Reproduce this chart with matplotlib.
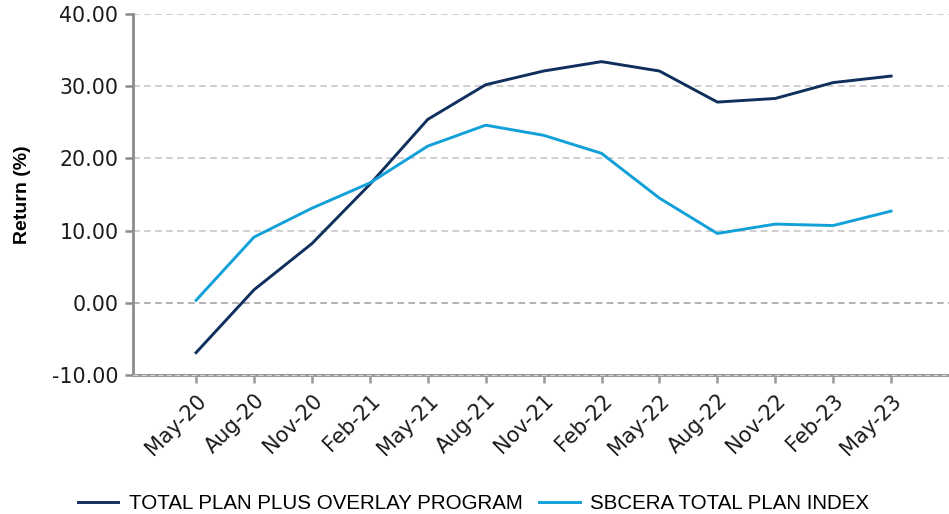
import matplotlib
matplotlib.use("Agg")
import matplotlib.pyplot as plt
from matplotlib.lines import Line2D
from matplotlib.transforms import ScaledTranslation

plt.rcParams['font.family'] = ['Liberation Sans', 'DejaVu Sans']

categories = ["May-20", "Aug-20", "Nov-20", "Feb-21", "May-21", "Aug-21", "Nov-21",
              "Feb-22", "May-22", "Aug-22", "Nov-22", "Feb-23", "May-23"]
total_plan_overlay = [-6.9, 1.8, 8.2, 16.4, 25.4, 30.2, 32.1, 33.4, 32.1, 27.8, 28.3, 30.5, 31.4]
sbcera_index = [0.35, 9.1, 13.1, 16.6, 21.7, 24.6, 23.2, 20.7, 14.5, 9.6, 10.9, 10.7, 12.7]
series_names = ["TOTAL PLAN PLUS OVERLAY PROGRAM", "SBCERA TOTAL PLAN INDEX"]
yticks = [-10, 0, 10, 20, 30, 40]

dark = "#0f2f5c"
light = "#12a0d8"

fig = plt.figure(figsize=(9.49, 5.14), dpi=100)
ax = fig.add_axes([0.1401, 0.2704, 0.8599, 0.7024])

x = list(range(len(categories)))
ax.plot(x, total_plan_overlay, color=dark, lw=2.1, label=series_names[0], zorder=3)
ax.plot(x, sbcera_index, color=light, lw=2.1, label=series_names[1], zorder=3)

ax.set_xlim(-1.09, 13.0)
ax.set_ylim(-10, 40)
ax.set_yticks(yticks)
ax.set_yticklabels([f"{v:.2f}" for v in yticks], family='DejaVu Sans', fontsize=14.8)
ax.set_xticks(x)
ax.set_xticklabels(categories, rotation=45, ha='right', rotation_mode='anchor',
                   family='DejaVu Sans', fontsize=15)
offset = ScaledTranslation(12 / 100, -2 / 100, fig.dpi_scale_trans)
for lbl in ax.get_xticklabels():
    lbl.set_transform(lbl.get_transform() + offset)

for v in yticks[1:]:
    ax.axhline(v, color="#cccccc" if v != 0 else "#ababab", lw=1.3,
               ls=(0, (3.7, 2.4)), zorder=1)

for s in ["top", "right"]:
    ax.spines[s].set_visible(False)
ax.spines["left"].set_color("#8c8c8c")
ax.spines["left"].set_linewidth(2.0)
ax.spines["bottom"].set_color("#9a9a9a")
ax.spines["bottom"].set_linewidth(2.2)
ax.axhline(-10, color="#d6d6d6", lw=0.8, ls=(0, (4.5, 3.0)), zorder=2.6, clip_on=False)

ax.tick_params(axis='y', length=5.5, width=1.8, color="#8c8c8c", pad=5,
               labelcolor="#1a1a1a")
ax.tick_params(axis='x', length=6, width=1.8, color="#9a9a9a", pad=5,
               labelcolor="#1a1a1a")

ax.set_ylabel("Return (%)", fontsize=14, fontweight='bold')
ax.yaxis.set_label_coords(-0.125, 0.5)

handles = [Line2D([0], [0], color=dark, lw=2.1), Line2D([0], [0], color=light, lw=2.1)]
fig.legend(handles, series_names, loc='lower center', bbox_to_anchor=(0.499, -0.035),
           ncol=2, frameon=False, fontsize=14.8, handlelength=1.95, handletextpad=0.53,
           columnspacing=0.83)

fig.savefig("out.png", dpi=100)
